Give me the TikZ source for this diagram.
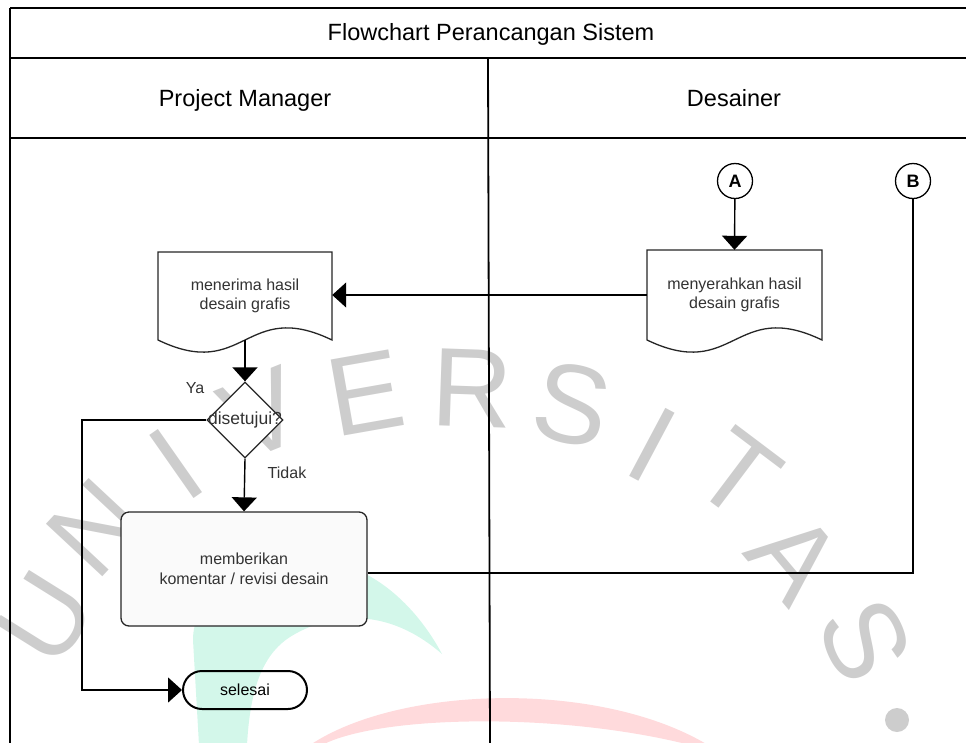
\documentclass[tikz,border=0pt]{standalone}
\usepackage{fontspec}
\setmainfont{Liberation Sans}
\usetikzlibrary{arrows.meta,shapes.geometric}
\definecolor{wmgray}{HTML}{CDCDCD}
\definecolor{wmgreen}{HTML}{D3F7EA}
\definecolor{wmpink}{HTML}{FFDADC}
\definecolor{boxtext}{HTML}{333333}
\definecolor{boxfill}{HTML}{FAFAFA}
\begin{document}
\begin{tikzpicture}[x=1pt,y=-1pt,
  frameline/.style={line width=1.8pt},
  shapeline/.style={line width=1.3pt, draw=black!85},
  conn/.style={line width=1.4pt},
  arr/.style={conn, -{Triangle[length=14pt,width=25pt]}},
  boxtxt/.style={align=center, text=boxtext, font=\fontsize{16}{19.5}\selectfont, inner sep=0pt},
  lane/.style={font=\fontsize{23.5}{28}\selectfont, anchor=base},
  conncirc/.style={circle, draw, line width=1.3pt, fill=white, minimum size=35pt, inner sep=0pt, font=\bfseries\fontsize{18}{18}\selectfont},
  wm/.style={text=wmgray, font=\fontsize{112}{112}\selectfont, inner sep=0pt}
]
\useasboundingbox (0,0) rectangle (966,742);
\clip (0,0) rectangle (966,742);

% faint watermark behind the chart
\fill[wmgreen] (442,654) .. controls (405,585) and (340,545) .. (280,565)
  .. controls (230,575) and (193,600) .. (193,640) -- (199,745) -- (247,745)
  .. controls (250,690) and (262,655) .. (290,637)
  .. controls (320,618) and (380,600) .. (442,654) -- cycle;
\fill[wmpink] (310,745) .. controls (400,685) and (600,680) .. (708,745)
  -- (690,745) .. controls (560,712) and (380,715) .. (322,745) -- cycle;
\node[wm, rotate=58]  (w1)  at (46,618)  {U};
\node[wm, rotate=47]  (w2)  at (96,528)  {N};
\node[wm, rotate=35]  (w3)  at (176,464) {I};
\node[wm, rotate=22]  (w4)  at (262,414) {V};
\node[wm, rotate=10]  (w5)  at (366,393) {E};
\node[wm, rotate=-2]  (w6)  at (472,388) {R};
\node[wm, rotate=-12] (w7)  at (572,405) {S};
\node[wm, rotate=-28] (w8)  at (652,445) {I};
\node[wm, rotate=-37] (w9)  at (738,474) {T};
\node[wm, rotate=-50] (w10) at (795,557) {A};
\node[wm, rotate=-65] (w11) at (865,640) {S};
\fill[wmgray] (897,720) circle (12pt);

% swimlane frame
\draw[frameline] (10,8) -- (970,8);
\draw[frameline] (10,58) -- (970,58);
\draw[frameline] (10,138) -- (970,138);
\draw[frameline] (10,8) -- (10,745);
\draw[frameline] (488,58) -- (490,745);

\node[lane] (title) at (491,40) {Flowchart Perancangan Sistem};
\node[lane] (pm) at (245,106) {Project Manager};
\node[lane] (ds) at (734,106) {Desainer};

% document shapes
\coordinate (d1c) at (245,296);
\draw[shapeline, fill=white, shift={(d1c)}] (-87,-44) -- (87,-44) -- (87,44)
  .. controls (0,2) and (0,86) .. (-87,44) -- cycle;
\node[boxtxt, minimum width=174pt, minimum height=88pt] (doc1) at (d1c) {menerima hasil\\desain grafis};

\coordinate (d2c) at (734.5,295);
\draw[shapeline, fill=white, shift={(d2c)}] (-87.5,-45) -- (87.5,-45) -- (87.5,45)
  .. controls (0,3) and (0,87) .. (-87.5,45) -- cycle;
\node[boxtxt, minimum width=175pt, minimum height=90pt] (doc2) at (d2c) {menyerahkan hasil\\desain grafis};

% off-page connectors
\node[conncirc] (A) at (735,181) {A};
\node[conncirc] (B) at (913,181) {B};

% decision
\node[diamond, shapeline, draw, fill=white, minimum width=76pt, minimum height=76pt, inner sep=0pt] (dec) at (245,420) {};
\node[boxtxt, font=\fontsize{17.5}{20}\selectfont] (dectext) at (dec.center) {disetujui?};
\node[boxtxt] (ya) at (195,388) {Ya};
\node[boxtxt] (tidak) at (287,473) {Tidak};

% process and terminator
\node[boxtxt, shapeline, draw, rounded corners=8pt, fill=boxfill, minimum width=246pt, minimum height=114pt] (rev) at (244,569) {memberikan\\komentar / revisi desain};
\node[boxtxt, draw, line width=2pt, text=black, rounded corners=19pt, minimum width=124pt, minimum height=38pt] (end) at (245,690) {selesai};
\coordinate (loop) at (82,690);

% connectors
\draw[arr] (A) -- (doc2.north);
\draw[arr] (doc2.west) -- (doc2.west -| doc1.east);
\draw[arr] (doc1.south) -- (dec.north);
\draw[arr] (dec.south) -- (rev.north);
\draw[arr] (dec.west) -| (loop) -- (end.west);
\draw[conn] ([yshift=-4pt]rev.east) -| (B.south);
\end{tikzpicture}
\end{document}
